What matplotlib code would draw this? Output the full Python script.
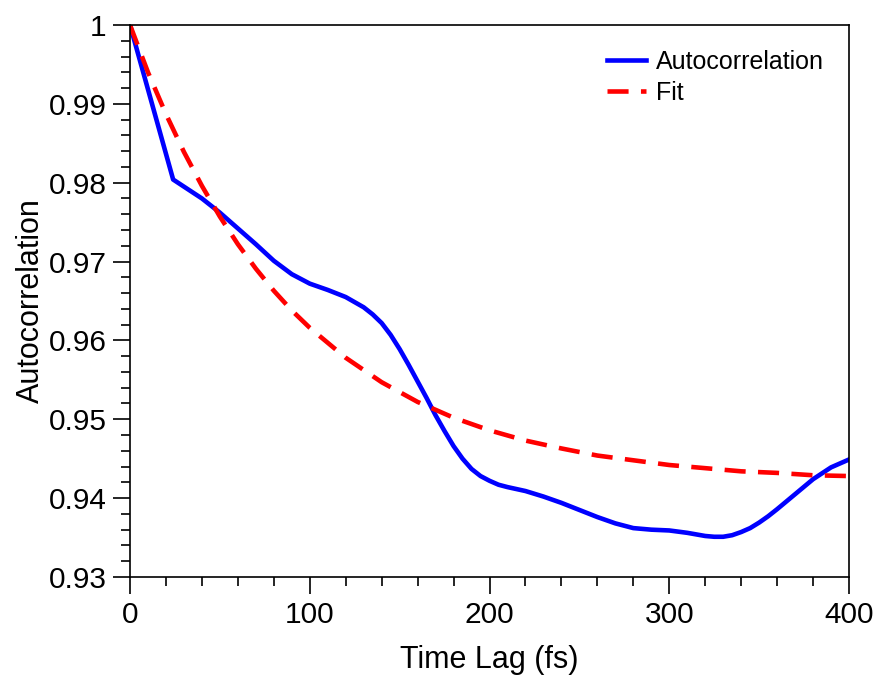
import numpy as np
import matplotlib
matplotlib.use('Agg')
import matplotlib.pyplot as plt
from matplotlib.ticker import MultipleLocator

plt.rcParams['font.family'] = ['Liberation Sans', 'DejaVu Sans']

# autocorrelation
lag = [0, 24, 30, 40, 50, 60, 70, 80, 90, 100, 110, 120, 130, 135, 140, 145,
       150, 155, 160, 165, 170, 175, 180, 185, 190, 195, 200, 205, 210, 220,
       230, 240, 250, 260, 270, 280, 290, 300, 310, 315, 320, 325, 330, 335,
       340, 345, 350, 355, 360, 370, 380, 390, 400]
acf = [1.0, 0.9804, 0.9795, 0.9780, 0.9762, 0.9742, 0.9722, 0.9701, 0.9684,
       0.9672, 0.9664, 0.9655, 0.9642, 0.9633, 0.9622, 0.9607, 0.9589, 0.9569,
       0.9548, 0.9527, 0.9505, 0.9485, 0.9466, 0.9450, 0.9437, 0.9428, 0.9422,
       0.9417, 0.9414, 0.9409, 0.9402, 0.9394, 0.9385, 0.9376, 0.9368, 0.9362,
       0.9360, 0.9359, 0.9356, 0.9354, 0.9352, 0.9351, 0.9351, 0.9353, 0.9357,
       0.9362, 0.9369, 0.9377, 0.9386, 0.9405, 0.9424, 0.9439, 0.9449]

# fitted curve
fit_lag = [0, 10, 20, 30, 40, 50, 60, 70, 80, 90, 100, 120, 140, 160, 180,
           200, 220, 240, 260, 280, 300, 320, 340, 360, 380, 400]
fit = [1.0, 0.9940, 0.9887, 0.9839, 0.9796, 0.9757, 0.9722, 0.9691, 0.9663,
       0.9638, 0.9616, 0.9578, 0.9547, 0.9522, 0.9502, 0.9486, 0.9473, 0.9463,
       0.9454, 0.9448, 0.9442, 0.9438, 0.9434, 0.9432, 0.9429, 0.9428]

fig = plt.figure(figsize=(8.79, 6.75), dpi=100)
ax = fig.add_axes([0.1479, 0.1452, 0.818, 0.8178])

ax.plot(lag, acf, color='#0000ff', lw=3.3, label='Autocorrelation',
        solid_joinstyle='round')
ax.plot(fit_lag, fit, color='#ff0000', lw=3.3, dashes=(4.6, 2.7), label='Fit')

ax.set_xlim(0, 400)
ax.set_ylim(0.93, 1.0)
ax.xaxis.set_major_locator(MultipleLocator(100))
ax.xaxis.set_minor_locator(MultipleLocator(20))
ax.yaxis.set_minor_locator(MultipleLocator(0.002))
ax.set_yticks(np.arange(0.93, 1.0001, 0.01))
ax.set_yticklabels(['0.93', '0.94', '0.95', '0.96', '0.97', '0.98', '0.99', '1'])

ax.tick_params(which='major', direction='out', length=12, width=1.2, labelsize=21.5, pad=5)
ax.tick_params(which='minor', direction='out', length=6.5, width=1.2)
for s in ax.spines.values():
    s.set_linewidth(1.2)

ax.set_xlabel('Time Lag (fs)', fontsize=22, labelpad=12)
ax.set_ylabel('Autocorrelation', fontsize=22, labelpad=2)

ax.legend(loc='upper right', frameon=False, fontsize=18, handlelength=1.55,
          handletextpad=0.4, labelspacing=0.28, borderaxespad=0.6)

fig.savefig('out.png', dpi=100)
